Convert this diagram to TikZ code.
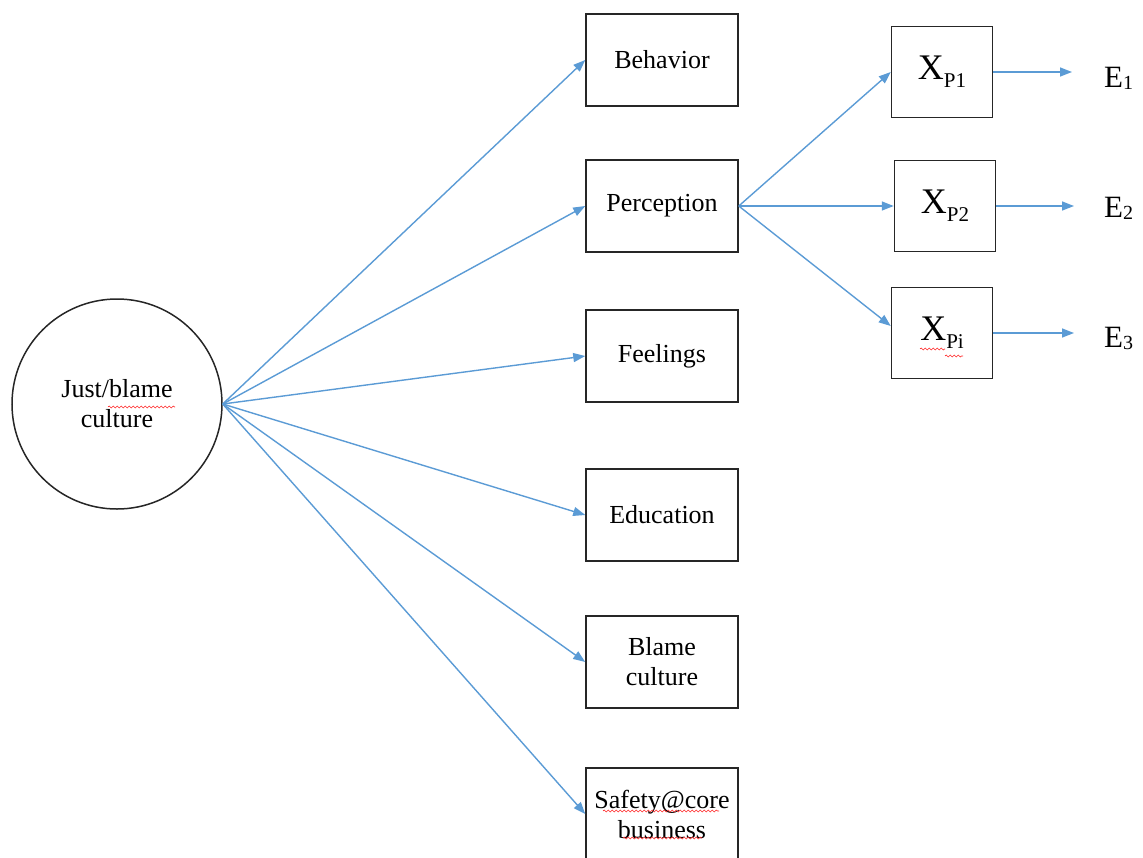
\documentclass[tikz,border=0pt]{standalone}
\usepackage{fontspec}
\setmainfont{Liberation Serif}
\usetikzlibrary{arrows.meta,decorations.pathmorphing}
\definecolor{linkblue}{RGB}{91,155,213}
\newcommand{\xsub}[1]{X\raisebox{-8pt}{\fontsize{21}{21}\selectfont #1}}
\newcommand{\esub}[1]{E\raisebox{-2pt}{\fontsize{20}{20}\selectfont #1}}
\begin{document}
\begin{tikzpicture}[x=1pt,y=-1pt,
  txt/.style={font=\fontsize{26}{30}\selectfont, align=center},
  box/.style={txt, draw=black!85, line width=1.5pt, minimum width=152pt,
    minimum height=92pt, inner sep=0pt},
  xbox/.style={draw=black!85, line width=1.5pt, minimum width=101pt,
    minimum height=91pt, inner sep=0pt, font=\fontsize{36}{40}\selectfont},
  latent/.style={txt, circle, draw=black!85, line width=1.5pt,
    minimum size=210pt, inner sep=0pt},
  enode/.style={font=\fontsize{31}{34}\selectfont, inner sep=0pt},
  link/.style={draw=linkblue, line width=1.4pt,
    -{Triangle[length=12pt,width=9pt]}},
  squig/.style={draw=red!85, line width=0.6pt,
    decorate, decoration={snake, amplitude=1pt, segment length=4pt}}
]
\useasboundingbox (0,0) rectangle (1143,857);

% latent construct
\node[latent] (jc) at (117,404) {Just/blame\\culture};

% indicator boxes
\node[box] (beh) at (662,60) {Behavior};
\node[box] (per) at (662,206) {Perception};
\node[box] (fee) at (662,356) {Feelings};
\node[box] (edu) at (662,515) {Education};
\node[box] (bla) at (662,662) {Blame\\culture};
\node[box] (saf) at (662,814) {Safety@core\\business};

% perception items
\node[xbox] (xp1) at (942,72) {\xsub{P1}};
\node[xbox] (xp2) at (945,206) {\xsub{P2}};
\node[xbox] (xpi) at (942,333) {\xsub{Pi}};

% error terms
\node[enode, anchor=west] (e1) at (1104,78) {\esub{1}};
\node[enode, anchor=west] (e2) at (1104,208) {\esub{2}};
\node[enode, anchor=west] (e3) at (1104,338) {\esub{3}};

% paths from the construct
\foreach \t in {beh,per,fee,edu,bla,saf}
  \draw[link] (jc.east) -- (\t.west);

% paths from perception to items
\draw[link] (per.east) -- (xp1.west);
\draw[link] (per.east) -- (xp2.west);
\draw[link] (per.east) -- ([yshift=7pt]xpi.west);

% item error arrows
\draw[link] (xp1.east) -- ([xshift=-32pt]e1.west |- xp1.east);
\draw[link] (xp2.east) -- ([xshift=-30pt]e2.west |- xp2.east);
\draw[link] (xpi.east) -- ([xshift=-30pt]e3.west |- xpi.east);

% spell-check underlines
\draw[squig] (108,407) -- (175,407);
\draw[squig] (603,811) -- (719,811);
\draw[squig] (623,838) -- (702,838);
\draw[squig] (920,349) -- (945,349);
\draw[squig] (945,356) -- (963,356);
\end{tikzpicture}
\end{document}
